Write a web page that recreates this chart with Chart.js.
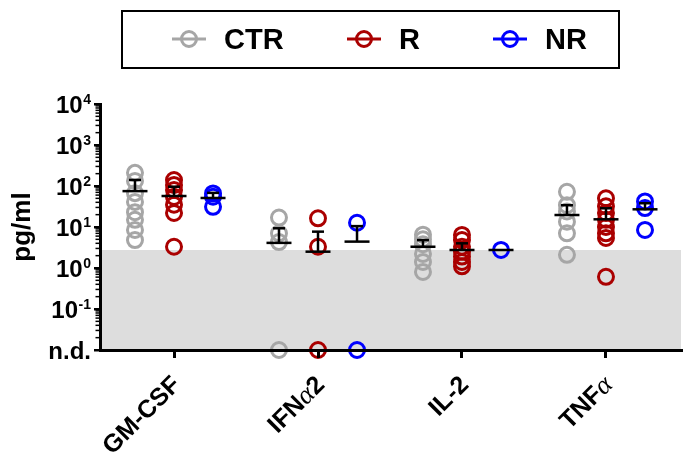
<!DOCTYPE html>
<html><head><meta charset="utf-8">
<script src="https://cdn.jsdelivr.net/npm/chart.js@4"></script>
<style>html,body{margin:0;padding:0;background:#fff}</style>
</head><body>
<canvas id="c" width="684" height="453"></canvas>
<script>
const ND = 0.01; // "n.d." (not detected) level = axis baseline
const categories = ['GM-CSF', 'IFNα2', 'IL-2', 'TNFα'];
const groupNames = ['CTR', 'R', 'NR'];
const yTickValues = [ND, 0.1, 1, 10, 100, 1000, 10000];
const detectionLimit = 2.75;

// individual values (pg/ml), one list per category
const ctrValues = [
  [209, 133, 67, 41, 23, 15, 8.5, 4.8],
  [17, 7.0, 4.3, ND],
  [6.5, 5.0, 3.8, 2.2, 1.4, 0.8],
  [72, 34, 24, 13.5, 7, 2.1]
];
const rValues = [
  [140, 106, 80, 54, 35, 22, 3.3],
  [16.3, 3.3, ND],
  [6.4, 4.8, 3.3, 2.5, 1.9, 1.4, 1.1],
  [50, 32, 22, 15, 10, 7, 5.4, 0.61]
];
const nrValues = [
  [66, 55, 31],
  [12.7, ND],
  [2.75],
  [42, 29, 8.5]
];
// mean and mean+SEM
const ctrMean = [75, 4.1, 3.3, 19.6];
const ctrUpper = [140, 9.3, 4.8, 34];
const rMean = [57, 2.5, 2.75, 15.4];
const rUpper = [96, 7.7, 4.0, 28.6];
const nrMean = [51, 4.4, 2.75, 27];
const nrUpper = [68, 10.5, 2.75, 38];

const groupColors = ['#a6a6a6', '#aa0000', '#0000ff'];
const groupOffsets = [-0.271, 0, 0.271];
const FONT = '"Liberation Sans", Arial, sans-serif';

const groups = [
  {name: groupNames[0], values: ctrValues, mean: ctrMean, upper: ctrUpper},
  {name: groupNames[1], values: rValues, mean: rMean, upper: rUpper},
  {name: groupNames[2], values: nrValues, mean: nrMean, upper: nrUpper}
];

const datasets = groups.map((g, gi) => ({
  label: g.name,
  data: g.values.flatMap((vals, ci) => vals.map(v => ({x: ci + groupOffsets[gi], y: v}))),
  borderColor: groupColors[gi],
  backgroundColor: 'rgba(0,0,0,0)',
  pointRadius: 7.5,
  pointBorderWidth: 3,
  pointHoverRadius: 7.5,
  showLine: false,
  clip: false
}));

function line(ctx, x1, y1, x2, y2) { ctx.beginPath(); ctx.moveTo(x1, y1); ctx.lineTo(x2, y2); ctx.stroke(); }

function drawRich(ctx, text, size) {
  const parts = [];
  for (const ch of text) {
    const f = ch === 'α' ? `italic ${size + 2}px "Liberation Serif", serif` : `bold ${size}px ${FONT}`;
    if (parts.length && parts[parts.length - 1].f === f) parts[parts.length - 1].t += ch;
    else parts.push({t: ch, f});
  }
  let total = 0;
  parts.forEach(p => { ctx.font = p.f; p.w = ctx.measureText(p.t).width; total += p.w; });
  let xx = -total;
  ctx.textAlign = 'left';
  parts.forEach(p => { ctx.font = p.f; ctx.fillText(p.t, xx, 0); xx += p.w; });
}

const custom = {
  id: 'custom',
  beforeDatasetsDraw(chart) {
    const {ctx, chartArea: a, scales: {y}} = chart;
    const top = y.getPixelForValue(detectionLimit);
    ctx.save();
    ctx.fillStyle = '#dddddd';
    ctx.fillRect(a.left, top, a.right - a.left, a.bottom - top);
    ctx.restore();
  },
  afterDatasetsDraw(chart) {
    const {ctx, scales: {x, y}} = chart;
    ctx.save();
    ctx.strokeStyle = '#000';
    ctx.lineWidth = 2.5;
    groups.forEach((g, gi) => {
      categories.forEach((c, ci) => {
        const px = x.getPixelForValue(ci + groupOffsets[gi]);
        const pm = y.getPixelForValue(g.mean[ci]);
        const pt = y.getPixelForValue(g.upper[ci]);
        line(ctx, px - 12.5, pm, px + 12.5, pm);
        if (pt < pm - 0.5) {
          line(ctx, px, pm, px, pt);
          line(ctx, px - 6, pt, px + 6, pt);
        }
      });
    });
    ctx.restore();
  },
  afterDraw(chart) {
    const {ctx, scales: {x, y}} = chart;
    ctx.save();
    ctx.fillStyle = '#000';
    ctx.strokeStyle = '#000';
    ctx.lineWidth = 1.5;
    for (let k = -2; k < 4; k++) {
      for (let m = 2; m < 10; m++) {
        const py = y.getPixelForValue(m * Math.pow(10, k));
        line(ctx, y.right - 4.5, py, y.right - 1, py);
      }
    }
    const rx = y.right - 9;
    yTickValues.forEach(v => {
      const py = y.getPixelForValue(v);
      ctx.textBaseline = 'alphabetic';
      ctx.textAlign = 'right';
      if (v === ND) {
        ctx.font = `bold 24px ${FONT}`;
        ctx.fillText('n.d.', rx, py + 8.6);
      } else {
        const e = String(Math.round(Math.log10(v)));
        ctx.font = `bold 14px ${FONT}`;
        const sw = ctx.measureText(e).width;
        ctx.fillText(e, rx, py);
        ctx.font = `bold 24px ${FONT}`;
        ctx.fillText('10', rx - sw - 0.5, py + 8.6);
      }
    });
    ctx.textBaseline = 'middle';
    categories.forEach((c, i) => {
      const px = x.getPixelForValue(i);
      ctx.save();
      ctx.translate(px + 3, 381);
      ctx.rotate(-Math.PI / 4);
      drawRich(ctx, c, 25);
      ctx.restore();
    });
    ctx.lineWidth = 2;
    ctx.strokeRect(122, 11, 497, 57);
    const lx = [189, 364, 510];
    groups.forEach((g, gi) => {
      const cx = lx[gi], cy = 39;
      ctx.strokeStyle = groupColors[gi];
      ctx.lineWidth = 3;
      line(ctx, cx - 17, cy, cx + 17, cy);
      ctx.beginPath(); ctx.arc(cx, cy, 7.5, 0, Math.PI * 2); ctx.stroke();
      ctx.fillStyle = '#000';
      ctx.font = `bold 29px ${FONT}`;
      ctx.textAlign = 'left';
      ctx.textBaseline = 'alphabetic';
      ctx.fillText(g.name, cx + 35, cy + 10.4);
    });
    ctx.restore();
  }
};

new Chart(document.getElementById('c'), {
  type: 'scatter',
  data: {datasets},
  options: {
    responsive: false,
    animation: false,
    devicePixelRatio: 1,
    layout: {autoPadding: false, padding: {top: 104, right: 3, left: 0, bottom: 0}},
    plugins: {legend: {display: false}, tooltip: {enabled: false}},
    scales: {
      x: {
        type: 'linear', min: -0.514, max: 3.521,
        afterBuildTicks(s) { s.ticks = categories.map((c, i) => ({value: i})); },
        afterFit(s) { s.height = 103; },
        ticks: {display: false},
        grid: {drawOnChartArea: false, drawTicks: true, tickLength: 8, lineWidth: 3, color: '#000', z: 1},
        border: {display: true, color: '#000', width: 3, z: 1}
      },
      y: {
        type: 'logarithmic', min: ND, max: 10000,
        afterBuildTicks(s) { s.ticks = yTickValues.map(v => ({value: v, major: true})); },
        afterFit(s) { s.width = 100; },
        ticks: {display: false},
        grid: {drawOnChartArea: false, drawTicks: true, tickLength: 6, lineWidth: 2.5, color: '#000', z: 1},
        border: {display: true, color: '#000', width: 3, z: 1},
        title: {display: true, text: 'pg/ml', color: '#000', font: {family: FONT, size: 26, weight: 'bold'}, padding: {top: 7, bottom: 0}}
      }
    }
  },
  plugins: [custom]
});
</script>
</body></html>
